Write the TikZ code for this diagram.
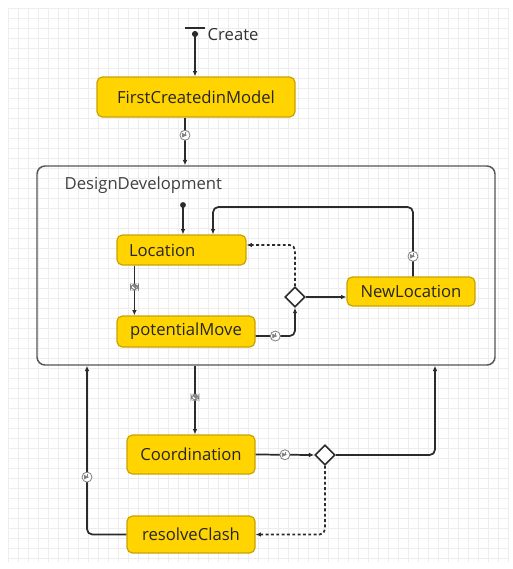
\documentclass[tikz,border=0pt]{standalone}
\usepackage{fontspec}
\setmainfont{Open Sans}
\usetikzlibrary{arrows.meta,shapes.geometric}
\definecolor{stfill}{HTML}{FFD400}
\definecolor{stedge}{HTML}{C9A200}
\definecolor{gridc}{HTML}{EDEDED}
\definecolor{linec}{HTML}{2B2B2B}
\newcommand{\labelfont}{\fontsize{12.5}{14}\selectfont}
\tikzset{
  state/.style={draw=stedge,fill=stfill,rounded corners=4pt,line width=0.9pt,inner sep=0pt,font=\labelfont,text=black!85},
  trans/.style={draw=linec,line width=1.3pt,-{Latex[length=4pt,width=3.5pt]},rounded corners=4pt},
  dashline/.style={dash pattern=on 2.2pt off 1.8pt},
  choice/.style={diamond,draw=linec,fill=white,line width=1.2pt,minimum size=15pt,inner sep=0pt},
  clock/.style={circle,draw=gray,fill=white,minimum size=7.5pt,inner sep=0pt,line width=0.6pt,
    path picture={\draw[gray,line width=0.5pt,sharp corners] (path picture bounding box.center) -- ++(0,2.4pt)
      (path picture bounding box.center) -- ++(1.8pt,0);}},
  msg/.style={rectangle,draw=gray,fill=white,minimum width=6pt,minimum height=4.5pt,inner sep=0pt,line width=0.6pt,
    path picture={\draw[gray,line width=0.4pt,sharp corners] (path picture bounding box.north west) -- (path picture bounding box.center)
      -- (path picture bounding box.north east);}}
}
\begin{document}
\begin{tikzpicture}[x=0.75pt,y=-0.75pt]
  \useasboundingbox (0,0) rectangle (513,569);
  % background grid
  \foreach \gx in {8,18,...,508} \draw[gridc,line width=0.4pt] (\gx,8) -- (\gx,562);
  \foreach \gy in {8,18,...,558} \draw[gridc,line width=0.4pt] (8,\gy) -- (508,\gy);

  % composite state
  \node[draw=linec!80,line width=1.1pt,rounded corners=6pt,minimum width=343.5pt,minimum height=149.25pt] (dd) at (266,265.5) {};
  \node[anchor=west,font=\labelfont,text=black!75] (ddlabel) at (60,185) {DesignDevelopment};

  % states
  \node[state,minimum width=148.5pt,minimum height=30pt] (fcm) at (196,97) {FirstCreatedinModel};
  \node[state,text width=78.75pt,inner xsep=9pt,align=left,minimum height=22.5pt] (loc) at (181.5,250) {Location};
  \node[state,minimum width=103.5pt,minimum height=23.25pt] (pm) at (186,331.5) {potentialMove};
  \node[state,minimum width=96pt,minimum height=21.75pt] (newloc) at (411,291.5) {NewLocation};
  \node[state,minimum width=96pt,minimum height=29.25pt] (coord) at (191,454.5) {Coordination};
  \node[state,minimum width=96pt,minimum height=27.75pt] (rc) at (191,534.5) {resolveClash};
  \node[choice] (d1) at (295,297) {};
  \node[choice] (d2) at (325,455) {};

  % start
  \coordinate (crt) at (195,34);
  \draw[linec,line width=1.5pt] (185,28) -- (205,28);
  \fill[linec] (crt) circle (2.3pt);
  \node[anchor=west,font=\labelfont,text=black!80] (crtlabel) at (203,35) {Create};
  \draw[trans] (crt) -- (crt |- fcm.north);
  \draw[trans] ([xshift=-8.25pt]fcm.south) -- node[clock,pos=0.37] {} ([xshift=-8.25pt]fcm.south |- dd.north);

  % inside DesignDevelopment
  \coordinate (ini) at (183,205);
  \fill[linec] (ini) circle (2.2pt);
  \draw[trans] (ini) -- (ini |- loc.north);
  \coordinate (looptop) at (213,207);
  \draw[trans] ([xshift=1.5pt]newloc.north) -- node[clock,pos=0.29] {} ([xshift=1.5pt]newloc.north |- looptop) -- (looptop) -- (looptop |- loc.north);
  \draw[trans] ([xshift=13.5pt]loc.south west) -- node[msg,pos=0.43] {} ([xshift=13.5pt]loc.south west |- pm.north);
  \draw[trans] ([yshift=-3.4pt]pm.east) -- node[clock,pos=0.5] {} ([yshift=-3.4pt]pm.east -| d1.south) -- (d1.south);
  \draw[trans] (d1.east) -- (d1.east -| newloc.west);
  \draw[trans,dashline] (d1.north) |- ([yshift=3.75pt]loc.east);

  % below DesignDevelopment
  \draw[trans] ([xshift=3pt]coord.north |- dd.south) -- node[msg,pos=0.46] {} ([xshift=3pt]coord.north);
  \draw[trans] (coord.east) -- node[clock,pos=0.5] {} (d2.west);
  \draw[trans] (d2.east) -| ([xshift=126.75pt]dd.south);
  \draw[trans,dashline] (d2.south) |- (rc.east);
  \draw[trans] (rc.west) -| node[clock,pos=0.67] {} ([xshift=-134.25pt]dd.south);
\end{tikzpicture}
\end{document}
